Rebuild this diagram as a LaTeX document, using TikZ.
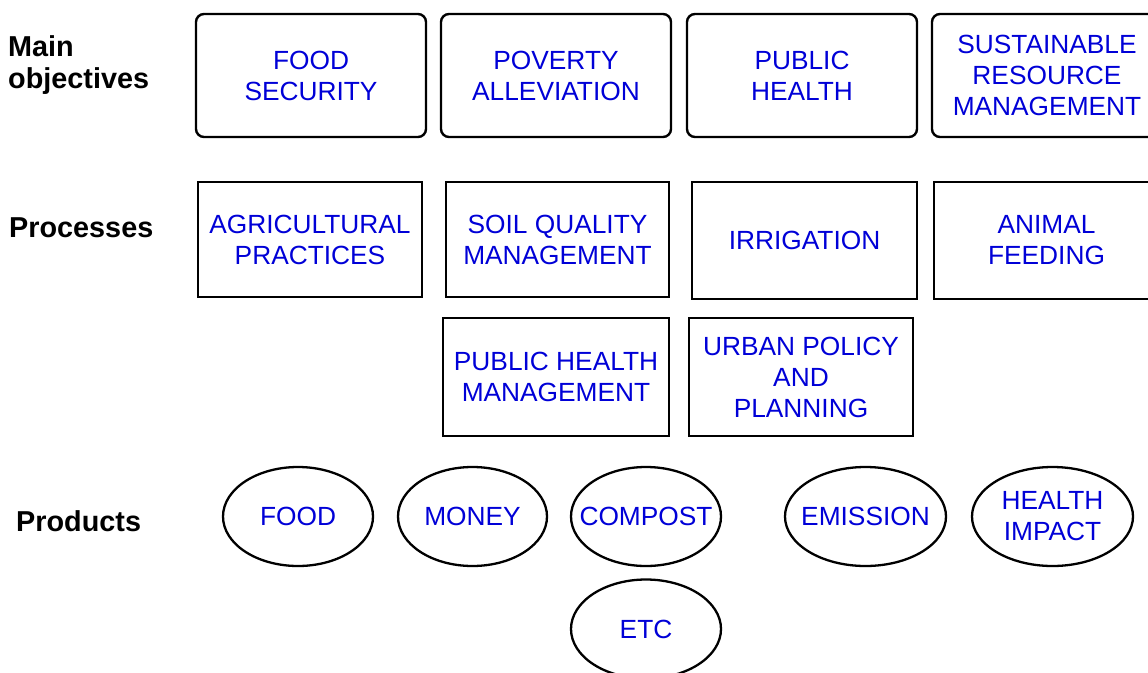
\documentclass[tikz,border=0pt]{standalone}
\usepackage{fontspec}
\setmainfont{Liberation Sans}
\usetikzlibrary{shapes.geometric}
\definecolor{txtblue}{RGB}{0,0,215}
\tikzset{
  x=1pt, y=-1pt,
  lbl/.style={font=\fontsize{28.8}{32}\selectfont\bfseries, inner sep=0pt, align=left},
  txt/.style={text=txtblue, font=\fontsize{26.3}{31}\selectfont, align=center, inner sep=0pt},
  objbox/.style={txt, draw=black, line width=2.4pt, rounded corners=8pt, minimum width=230pt, minimum height=123pt},
  procbox/.style={txt, draw=black, line width=2.6pt, minimum width=224pt, minimum height=116pt},
  prodell/.style={txt, draw=black, line width=2.3pt, ellipse, inner sep=-30pt, minimum width=150pt, minimum height=99pt},
}
\begin{document}
\begin{tikzpicture}
\useasboundingbox (0,0) rectangle (1148,672);
% labels
\node[lbl, anchor=west] (lmain) at (8,65.5) {Main\\objectives};
\node[lbl, anchor=base west] (lproc) at (9,237) {Processes};
\node[lbl, anchor=base west] (lprod) at (16,531) {Products};
% main objectives
\node[objbox] (o1) at (311,75.5) {FOOD\\SECURITY};
\node[objbox] (o2) at (556,75.5) {POVERTY\\ALLEVIATION};
\node[objbox] (o3) at (802,75.5) {PUBLIC\\HEALTH};
\node[objbox] (o4) at (1047,75.5) {SUSTAINABLE\\RESOURCE\\MANAGEMENT};
% processes
\node[procbox, minimum height=115pt] (p1) at (310,239.5) {AGRICULTURAL\\PRACTICES};
\node[procbox, minimum width=223pt, minimum height=115pt] (p2) at (557.5,239.5) {SOIL QUALITY\\MANAGEMENT};
\node[procbox, minimum width=225pt, minimum height=117pt] (p3) at (804.5,240.5) {IRRIGATION};
\node[procbox, minimum width=225pt, minimum height=117pt] (p4) at (1046.5,240.5) {ANIMAL\\FEEDING};
\node[procbox, minimum width=226pt, minimum height=118pt] (p5) at (556,377) {PUBLIC HEALTH\\MANAGEMENT};
\node[procbox, minimum height=118pt] (p6) at (801,377) {URBAN POLICY\\AND\\PLANNING};
% products
\node[prodell] (r1) at (298,516.5) {FOOD};
\node[prodell, minimum width=149pt] (r2) at (472.5,516.5) {MONEY};
\node[prodell] (r3) at (646,516.5) {COMPOST};
\node[prodell, minimum width=161pt] (r4) at (865.5,516.5) {EMISSION};
\node[prodell, minimum width=161pt] (r5) at (1052.5,516.5) {HEALTH\\IMPACT};
\node[prodell] (r6) at (646,629) {ETC};
\end{tikzpicture}
\end{document}
